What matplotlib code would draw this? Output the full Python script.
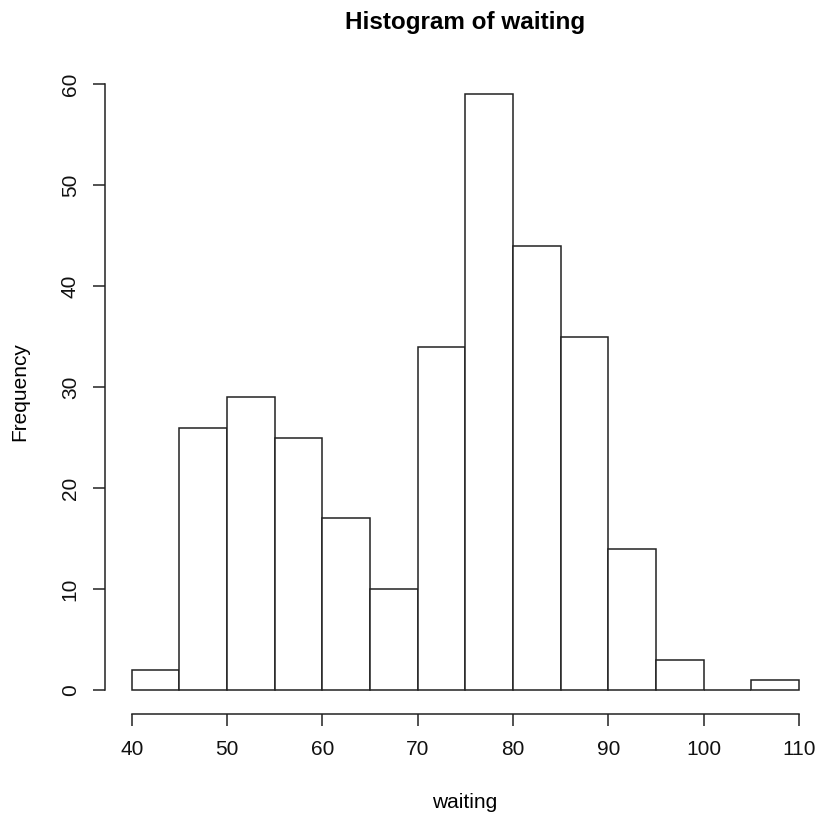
import matplotlib.pyplot as plt

plt.rcParams['font.family'] = ['Liberation Sans', 'DejaVu Sans']

# bin edges and counts
bin_left = [40, 45, 50, 55, 60, 65, 70, 75, 80, 85, 90, 95, 100, 105]
counts = [2, 26, 29, 25, 17, 10, 34, 59, 44, 35, 14, 3, 0, 1]
bin_width = 5
x_ticks = [40, 50, 60, 70, 80, 90, 100, 110]
y_ticks = [0, 10, 20, 30, 40, 50, 60]

W, H = 818, 816
fig = plt.figure(figsize=(W / 100, H / 100), dpi=100)
# R-style plot region (4% axis extension)
left, right, top, bottom = 105.0, 825.7, 70.6, 713.8
ax = fig.add_axes([left / W, 1 - bottom / H, (right - left) / W, (bottom - top) / H])

ax.bar(bin_left, counts, width=bin_width, align='edge', facecolor='white',
       edgecolor='#222222', linewidth=1.1)

ax.set_xlim(37.2, 112.8)
ax.set_ylim(-2.36, 61.36)

for s in ['top', 'right']:
    ax.spines[s].set_visible(False)
ax.spines['left'].set_bounds(0, 60)
ax.spines['bottom'].set_bounds(40, 110)
for s in ['left', 'bottom']:
    ax.spines[s].set_linewidth(1.1)
    ax.spines[s].set_color('#222222')

ax.set_xticks(x_ticks)
ax.set_yticks(y_ticks)
ax.tick_params(direction='out', length=8.6, width=1.1, color='#222222',
               labelsize=15, labelcolor='#111111')
ax.tick_params(axis='x', pad=10.5)
ax.tick_params(axis='y', pad=9.5)
for lab in ax.get_yticklabels():
    lab.set_rotation(90)
    lab.set_va('center')

fig.text(465 / W, 1 - 22 / H, 'Histogram of waiting', ha='center', va='center',
         fontsize=17.5, fontweight='bold')
fig.text(465 / W, 1 - 803 / H, 'waiting', ha='center', va='center', fontsize=15)
fig.text(20 / W, 1 - 392 / H, 'Frequency', ha='center', va='center', fontsize=15,
         rotation=90)

fig.savefig('out.png', dpi=100)
